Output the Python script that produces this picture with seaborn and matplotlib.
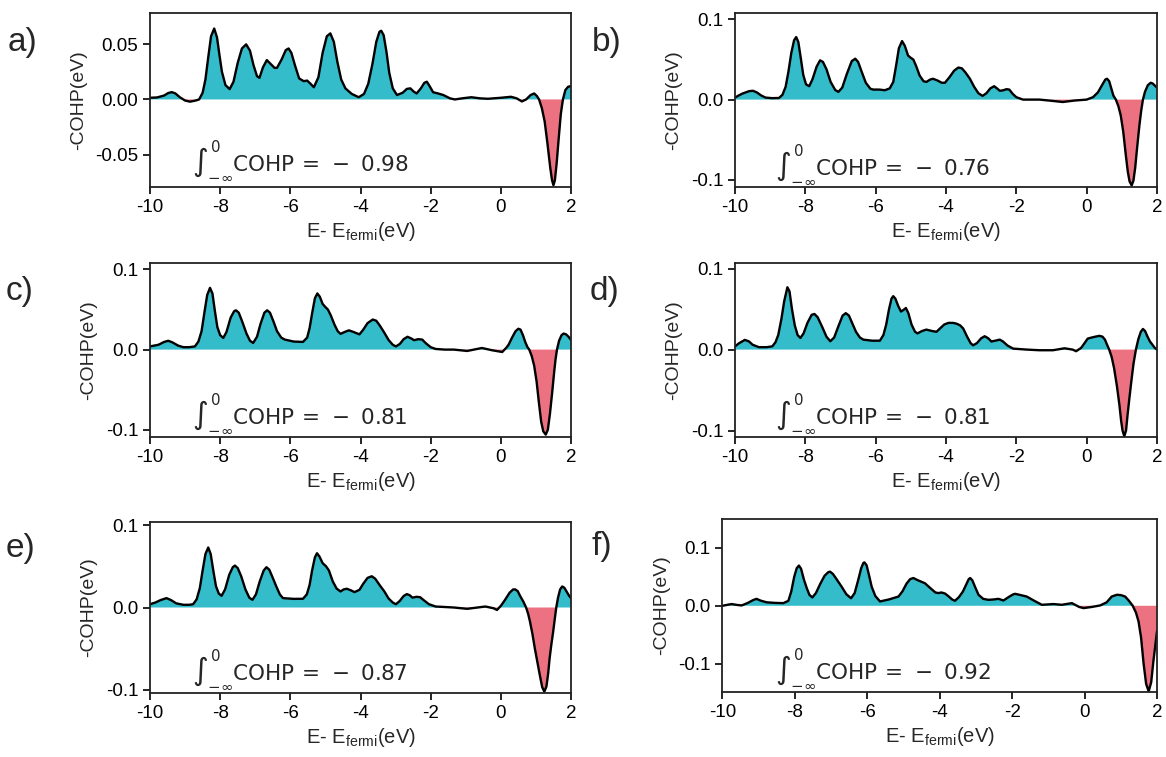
import numpy as np
import pandas as pd
import matplotlib
matplotlib.use("Agg")
import matplotlib.pyplot as plt
import seaborn as sns

# ---------------- data ----------------
E_a = [-10.0, -9.8, -9.6, -9.48, -9.38, -9.28, -9.15, -9.0, -8.86, -8.7, -8.6, -8.5, -8.42, -8.34, -8.26,
       -8.17, -8.09, -8.02, -7.95, -7.85, -7.73, -7.62, -7.5, -7.38, -7.26, -7.15, -7.05, -6.95, -6.88, -6.78,
       -6.67, -6.56, -6.45, -6.38, -6.25, -6.13, -6.05, -5.97, -5.87, -5.75, -5.62, -5.52, -5.42, -5.33, -5.2,
       -5.08, -4.96, -4.86, -4.76, -4.66, -4.55, -4.43, -4.25, -4.05, -3.9, -3.78, -3.66, -3.55, -3.46, -3.41,
       -3.34, -3.26, -3.18, -3.08, -2.96, -2.8, -2.68, -2.58, -2.48, -2.4, -2.28, -2.18, -2.11, -2.03, -1.93,
       -1.8, -1.64, -1.45, -1.31, -1.1, -0.84, -0.6, -0.37, 0.0, 0.29, 0.45, 0.6, 0.72, 0.85, 0.95,
       1.03, 1.09, 1.17, 1.25, 1.33, 1.41, 1.46, 1.5, 1.54, 1.59, 1.65, 1.71, 1.77, 1.84, 1.92, 2.0]
cohp_a = [0.0015, 0.0018, 0.0035, 0.0058, 0.0066, 0.0055, 0.002, -0.001, -0.002, -0.001, 0.0, 0.006, 0.018, 0.038, 0.057,
          0.064, 0.056, 0.04, 0.025, 0.013, 0.0093, 0.016, 0.033, 0.046, 0.0497, 0.044, 0.031, 0.021, 0.0195, 0.029,
          0.0355, 0.032, 0.0285, 0.0285, 0.036, 0.0445, 0.046, 0.042, 0.031, 0.019, 0.0165, 0.017, 0.014, 0.011, 0.02,
          0.042, 0.057, 0.0596, 0.052, 0.034, 0.018, 0.010, 0.005, 0.002, 0.005, 0.014, 0.032, 0.052, 0.061, 0.062,
          0.058, 0.043, 0.024, 0.01, 0.004, 0.006, 0.0095, 0.010, 0.007, 0.0054, 0.01, 0.015, 0.016, 0.012, 0.0065,
          0.0055, 0.004, 0.001, 0.0, 0.001, 0.002, 0.001, 0.0006, 0.0015, 0.0024, 0.001, -0.0018, 0.0, 0.004, 0.0054,
          0.003, 0.0, -0.008, -0.02, -0.04, -0.062, -0.073, -0.0774, -0.073, -0.058, -0.035, -0.013, 0.0, 0.0085, 0.0115, 0.012]

E_b = [-10.0, -9.9, -9.79, -9.6, -9.49, -9.38, -9.25, -9.13, -8.95, -8.75, -8.65, -8.56, -8.48, -8.4, -8.32,
       -8.26, -8.2, -8.13, -8.06, -7.98, -7.89, -7.8, -7.68, -7.58, -7.5, -7.4, -7.28, -7.15, -7.06, -6.95,
       -6.82, -6.68, -6.58, -6.5, -6.4, -6.28, -6.15, -6.07, -5.9, -5.74, -5.6, -5.5, -5.42, -5.34, -5.25,
       -5.17, -5.08, -5.0, -4.93, -4.85, -4.75, -4.64, -4.56, -4.45, -4.37, -4.25, -4.12, -4.03, -3.9, -3.77,
       -3.65, -3.55, -3.45, -3.32, -3.2, -3.08, -2.96, -2.85, -2.74, -2.63, -2.55, -2.47, -2.38, -2.28, -2.2,
       -2.1, -2.0, -1.81, -1.34, -1.0, -0.68, -0.35, 0.0, 0.18, 0.32, 0.45, 0.53, 0.58, 0.64, 0.7,
       0.76, 0.83, 0.9, 0.97, 1.04, 1.11, 1.17, 1.22, 1.28, 1.33, 1.38, 1.43, 1.5, 1.55, 1.6,
       1.66, 1.74, 1.82, 1.88, 1.95, 2.0]
cohp_b = [0.0025, 0.005, 0.0075, 0.0105, 0.011, 0.009, 0.005, 0.0025, 0.0018, 0.002, 0.006, 0.016, 0.035, 0.058, 0.074,
          0.078, 0.072, 0.052, 0.031, 0.019, 0.0167, 0.025, 0.041, 0.049, 0.047, 0.038, 0.022, 0.012, 0.0096, 0.015,
          0.032, 0.048, 0.051, 0.047, 0.035, 0.021, 0.0135, 0.0125, 0.0125, 0.0117, 0.014, 0.022, 0.042, 0.064, 0.073,
          0.067, 0.055, 0.052, 0.05, 0.042, 0.03, 0.023, 0.022, 0.025, 0.026, 0.024, 0.021, 0.021, 0.028, 0.036,
          0.040, 0.039, 0.034, 0.026, 0.016, 0.008, 0.0046, 0.008, 0.014, 0.0167, 0.014, 0.011, 0.0115, 0.013, 0.0125,
          0.007, 0.003, 0.0, 0.0, -0.0015, -0.003, -0.0012, 0.0, 0.003, 0.009, 0.019, 0.025, 0.026, 0.023, 0.014,
          0.005, 0.0, -0.008, -0.02, -0.04, -0.068, -0.09, -0.102, -0.107, -0.101, -0.085, -0.062, -0.032, -0.014, 0.0,
          0.01, 0.018, 0.021, 0.02, 0.017, 0.015]

E_c = [-10.0, -9.88, -9.76, -9.6, -9.48, -9.36, -9.2, -9.05, -8.88, -8.72, -8.62, -8.53, -8.45, -8.37, -8.29,
       -8.22, -8.15, -8.08, -8.0, -7.91, -7.82, -7.7, -7.6, -7.55, -7.47, -7.38, -7.25, -7.15, -7.06, -6.95,
       -6.85, -6.74, -6.66, -6.58, -6.48, -6.38, -6.26, -6.16, -5.9, -5.64, -5.52, -5.45, -5.38, -5.3, -5.23,
       -5.16, -5.08, -5.0, -4.93, -4.85, -4.74, -4.65, -4.57, -4.45, -4.33, -4.2, -4.03, -3.92, -3.8, -3.65,
       -3.55, -3.45, -3.32, -3.2, -3.08, -2.99, -2.88, -2.77, -2.66, -2.56, -2.47, -2.36, -2.24, -2.14, -2.0,
       -1.86, -1.6, -1.34, -0.96, -0.54, -0.25, 0.04, 0.15, 0.22, 0.32, 0.42, 0.5, 0.56, 0.63, 0.7,
       0.76, 0.81, 0.88, 0.95, 1.02, 1.09, 1.15, 1.21, 1.28, 1.34, 1.4, 1.46, 1.52, 1.56, 1.6,
       1.66, 1.73, 1.79, 1.86, 1.93, 2.0]
cohp_c = [0.004, 0.005, 0.006, 0.0095, 0.011, 0.009, 0.005, 0.003, 0.003, 0.004, 0.01, 0.023, 0.046, 0.068, 0.077,
          0.07, 0.048, 0.028, 0.018, 0.0146, 0.022, 0.04, 0.048, 0.049, 0.046, 0.036, 0.02, 0.011, 0.0083, 0.016,
          0.032, 0.046, 0.049, 0.046, 0.035, 0.023, 0.015, 0.0125, 0.01, 0.0096, 0.015, 0.027, 0.045, 0.064, 0.070,
          0.066, 0.057, 0.053, 0.050, 0.043, 0.031, 0.023, 0.0196, 0.022, 0.024, 0.022, 0.019, 0.025, 0.033, 0.0375,
          0.036, 0.03, 0.021, 0.012, 0.006, 0.004, 0.007, 0.013, 0.016, 0.014, 0.0117, 0.013, 0.0125, 0.008, 0.003,
          0.0008, 0.0, 0.0, -0.0017, 0.002, -0.0008, -0.003, 0.002, 0.006, 0.015, 0.023, 0.026, 0.025, 0.018, 0.009,
          0.003, 0.0, -0.008, -0.02, -0.04, -0.068, -0.09, -0.102, -0.106, -0.1, -0.08, -0.055, -0.028, -0.012, 0.0,
          0.011, 0.018, 0.020, 0.019, 0.016, 0.012]

E_d = [-10.0, -9.88, -9.72, -9.6, -9.5, -9.32, -9.1, -8.94, -8.85, -8.77, -8.68, -8.6, -8.51, -8.45, -8.38,
       -8.3, -8.22, -8.14, -8.05, -7.94, -7.82, -7.74, -7.65, -7.52, -7.4, -7.29, -7.18, -7.05, -6.94, -6.85,
       -6.76, -6.66, -6.56, -6.45, -6.35, -6.1, -5.88, -5.78, -5.7, -5.62, -5.55, -5.5, -5.44, -5.36, -5.28,
       -5.21, -5.14, -5.07, -4.98, -4.88, -4.81, -4.68, -4.56, -4.4, -4.27, -4.15, -4.05, -3.93, -3.8, -3.7,
       -3.6, -3.51, -3.4, -3.3, -3.23, -3.12, -3.0, -2.9, -2.8, -2.71, -2.6, -2.47, -2.38, -2.25, -2.09,
       -1.7, -1.34, -0.96, -0.63, -0.4, -0.3, -0.16, -0.06, 0.03, 0.15, 0.25, 0.36, 0.45, 0.52, 0.58,
       0.64, 0.71, 0.78, 0.86, 0.93, 0.98, 1.02, 1.07, 1.12, 1.16, 1.21, 1.26, 1.33, 1.4, 1.47,
       1.54, 1.6, 1.66, 1.73, 1.8, 1.87, 1.94, 2.0]
cohp_d = [0.004, 0.008, 0.012, 0.01, 0.006, 0.003, 0.003, 0.004, 0.009, 0.018, 0.038, 0.06, 0.077, 0.072, 0.05,
          0.03, 0.018, 0.0144, 0.02, 0.033, 0.043, 0.044, 0.04, 0.028, 0.016, 0.0103, 0.015, 0.03, 0.042, 0.045,
          0.042, 0.032, 0.022, 0.015, 0.0123, 0.011, 0.011, 0.018, 0.031, 0.05, 0.063, 0.066, 0.063, 0.054, 0.047,
          0.049, 0.0514, 0.045, 0.031, 0.022, 0.020, 0.023, 0.0247, 0.023, 0.022, 0.027, 0.031, 0.033, 0.033, 0.032,
          0.03, 0.026, 0.016, 0.008, 0.0053, 0.008, 0.014, 0.0165, 0.014, 0.010, 0.011, 0.0123, 0.01, 0.005, 0.0012,
          0.0, -0.0008, -0.0008, 0.0016, 0.0, -0.002, 0.002, 0.008, 0.0136, 0.015, 0.016, 0.017, 0.016, 0.0123, 0.006,
          0.0, -0.009, -0.023, -0.045, -0.068, -0.088, -0.1, -0.107, -0.1, -0.082, -0.062, -0.043, -0.018, 0.0, 0.013,
          0.022, 0.0255, 0.023, 0.016, 0.01, 0.006, 0.002, 0.0]

E_e = [-10.0, -9.85, -9.7, -9.53, -9.4, -9.25, -9.05, -8.88, -8.77, -8.67, -8.58, -8.5, -8.42, -8.34, -8.27,
       -8.2, -8.12, -8.04, -7.96, -7.86, -7.74, -7.64, -7.58, -7.5, -7.4, -7.28, -7.17, -7.08, -6.98, -6.87,
       -6.76, -6.68, -6.6, -6.5, -6.4, -6.3, -6.21, -5.9, -5.64, -5.53, -5.45, -5.38, -5.3, -5.24, -5.17,
       -5.08, -4.98, -4.9, -4.79, -4.68, -4.57, -4.48, -4.39, -4.28, -4.17, -4.03, -3.92, -3.8, -3.68, -3.58,
       -3.45, -3.32, -3.2, -3.08, -2.99, -2.88, -2.77, -2.68, -2.6, -2.52, -2.4, -2.3, -2.2, -2.05, -1.86,
       -1.34, -0.96, -0.44, -0.2, -0.11, 0.0, 0.12, 0.25, 0.35, 0.41, 0.48, 0.55, 0.64, 0.72, 0.78,
       0.83, 0.9, 0.97, 1.04, 1.11, 1.18, 1.24, 1.3, 1.35, 1.39, 1.44, 1.49, 1.54, 1.58, 1.63,
       1.69, 1.75, 1.81, 1.88, 1.95, 2.0]
cohp_e = [0.004, 0.006, 0.009, 0.0114, 0.009, 0.005, 0.0033, 0.0033, 0.004, 0.01, 0.0236, 0.045, 0.065, 0.073, 0.065,
          0.046, 0.026, 0.017, 0.0142, 0.022, 0.04, 0.049, 0.051, 0.048, 0.038, 0.022, 0.012, 0.0093, 0.016, 0.032,
          0.045, 0.049, 0.046, 0.036, 0.0256, 0.016, 0.0114, 0.0105, 0.0106, 0.016, 0.0276, 0.045, 0.061, 0.066, 0.062,
          0.054, 0.050, 0.045, 0.0317, 0.023, 0.0195, 0.022, 0.0228, 0.021, 0.0187, 0.0215, 0.029, 0.036, 0.038, 0.035,
          0.027, 0.0195, 0.011, 0.006, 0.004, 0.008, 0.014, 0.0163, 0.015, 0.012, 0.013, 0.0125, 0.009, 0.004, 0.0012,
          0.0, -0.0016, 0.0012, -0.001, -0.003, 0.002, 0.0093, 0.018, 0.022, 0.022, 0.02, 0.014, 0.0073, 0.0, -0.008,
          -0.017, -0.032, -0.05, -0.066, -0.082, -0.097, -0.1024, -0.096, -0.08, -0.062, -0.045, -0.03, -0.013, 0.0, 0.012,
          0.022, 0.0256, 0.024, 0.019, 0.014, 0.0114]

E_f = [-10.0, -9.88, -9.75, -9.6, -9.47, -9.3, -9.15, -9.06, -8.95, -8.78, -8.55, -8.32, -8.18, -8.1, -8.02,
       -7.95, -7.89, -7.83, -7.75, -7.67, -7.6, -7.52, -7.42, -7.3, -7.18, -7.08, -7.03, -6.95, -6.85, -6.71,
       -6.58, -6.45, -6.35, -6.25, -6.17, -6.11, -6.08, -6.02, -5.95, -5.88, -5.78, -5.65, -5.4, -5.14, -5.03,
       -4.92, -4.82, -4.73, -4.6, -4.41, -4.25, -4.12, -4.04, -3.95, -3.85, -3.75, -3.66, -3.58, -3.47, -3.36,
       -3.26, -3.2, -3.16, -3.1, -3.02, -2.93, -2.8, -2.66, -2.5, -2.38, -2.24, -2.1, -1.98, -1.92, -1.8,
       -1.6, -1.4, -1.18, -0.86, -0.63, -0.35, -0.15, -0.03, 0.2, 0.43, 0.61, 0.75, 0.89, 1.0, 1.12,
       1.22, 1.33, 1.42, 1.49, 1.56, 1.63, 1.7, 1.77, 1.84, 1.9, 1.95, 2.0]
cohp_f = [0.0, 0.0015, 0.003, 0.0015, 0.0006, 0.005, 0.01, 0.012, 0.009, 0.006, 0.005, 0.0046, 0.0086, 0.025, 0.05,
          0.065, 0.0695, 0.064, 0.045, 0.030, 0.019, 0.0144, 0.022, 0.038, 0.052, 0.058, 0.059, 0.055, 0.046, 0.033,
          0.02, 0.013, 0.022, 0.045, 0.065, 0.074, 0.075, 0.07, 0.052, 0.033, 0.017, 0.0075, 0.011, 0.016, 0.025,
          0.038, 0.046, 0.048, 0.044, 0.039, 0.03, 0.023, 0.022, 0.023, 0.021, 0.016, 0.011, 0.0086, 0.015, 0.0247,
          0.038, 0.046, 0.048, 0.044, 0.032, 0.019, 0.012, 0.0103, 0.011, 0.012, 0.0092, 0.015, 0.0195, 0.0207, 0.019,
          0.016, 0.009, 0.0017, 0.003, 0.0017, 0.0046, -0.002, -0.004, -0.002, 0.0006, 0.006, 0.016, 0.019, 0.0185, 0.016,
          0.009, 0.0, -0.012, -0.027, -0.055, -0.10, -0.135, -0.148, -0.132, -0.096, -0.07, -0.044]

panels = ["a)", "b)", "c)", "d)", "e)", "f)"]
integrals = ["0.98", "0.76", "0.81", "0.81", "0.87", "0.92"]
energies = [E_a, E_b, E_c, E_d, E_e, E_f]
cohps = [cohp_a, cohp_b, cohp_c, cohp_d, cohp_e, cohp_f]
x_ticks = [-10, -8, -6, -4, -2, 0, 2]
x_tick_labels = ["-10", "-8", "-6", "-4", "-2", "0", "2"]
y_ticks_a = [-0.05, 0.0, 0.05]
y_tick_labels_a = ["-0.05", "0.00", "0.05"]
y_ticks = [-0.1, 0.0, 0.1]
y_tick_labels = ["-0.1", "0.0", "0.1"]
y_limits = [(-0.079, 0.078), (-0.109, 0.108), (-0.109, 0.108), (-0.108, 0.107), (-0.104, 0.104), (-0.149, 0.15)]

# ---------------- styling ----------------
sns.set_style("ticks")
plt.rcParams["font.family"] = ["Liberation Sans", "DejaVu Sans"]
plt.rcParams["axes.unicode_minus"] = False
plt.rcParams["mathtext.default"] = "regular"
plt.rcParams["mathtext.fontset"] = "dejavusans"

TEAL = "#34BCCA"
PINK = "#EC7282"

fig = plt.figure(figsize=(11.66, 7.57), dpi=100)

W, H = 1166.0, 757.0
# pixel boxes: left, top, right, bottom
boxes = [(150, 13, 571, 187), (735, 13, 1157, 187),
         (150, 263, 571, 437), (735, 263, 1157, 437),
         (150, 522, 571, 693), (722.5, 519, 1157, 692)]
letter_pos = [(8, 42), (592, 42), (6, 292), (590, 292), (6, 549), (592, 547)]
int_pos = [(0.10, 0.155), (0.095, 0.13), (0.10, 0.14), (0.095, 0.14), (0.10, 0.14), (0.12, 0.14)]

for i in range(6):
    l, t, r, b = boxes[i]
    ax = fig.add_axes([l / W, 1 - b / H, (r - l) / W, (b - t) / H])
    E = np.array(energies[i])
    v = np.array(cohps[i])
    df = pd.DataFrame({"E": E, "COHP": v})
    ax.fill_between(E, 0, v, where=v >= 0, interpolate=True, color=TEAL, linewidth=0)
    ax.fill_between(E, 0, v, where=v <= 0, interpolate=True, color=PINK, linewidth=0)
    sns.lineplot(data=df, x="E", y="COHP", ax=ax, color="black", linewidth=1.7,
                 estimator=None, sort=False)
    ax.set_xlim(-10, 2)
    ax.set_ylim(*y_limits[i])
    ax.set_xticks(x_ticks)
    ax.set_xticklabels(x_tick_labels)
    if i == 0:
        ax.set_yticks(y_ticks_a)
        ax.set_yticklabels(y_tick_labels_a)
    else:
        ax.set_yticks(y_ticks)
        ax.set_yticklabels(y_tick_labels)
    ax.tick_params(labelsize=13.5, width=1.2, length=5, color="black", labelcolor="black")
    for s in ax.spines.values():
        s.set_linewidth(1.3)
        s.set_color("#222222")
    ax.set_ylabel("-COHP(eV)", fontsize=14, labelpad=6)
    ax.set_xlabel("E- E$_{fermi}$(eV)", fontsize=14.5, labelpad=3)
    ax.text(int_pos[i][0], int_pos[i][1],
            r"$\int_{-\infty}^{0}\mathrm{COHP}\,=\,-\ " + integrals[i] + "$",
            transform=ax.transAxes, fontsize=15.5, ha="left", va="center",
            family="DejaVu Sans")
    fig.text(letter_pos[i][0] / W, 1 - letter_pos[i][1] / H, panels[i],
             fontsize=24, ha="left", va="center")

fig.savefig("out.png", dpi=100)
